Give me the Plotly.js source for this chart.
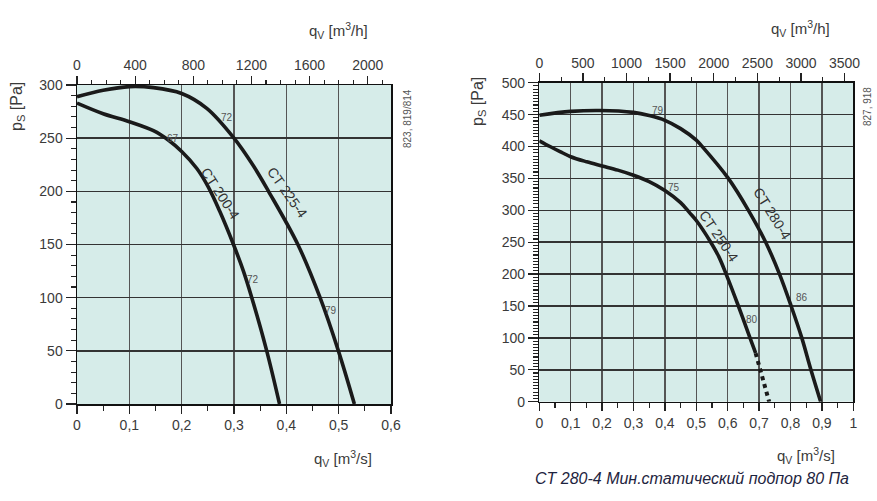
<!DOCTYPE html>
<html>
<head>
<meta charset="utf-8">
<script src="https://cdn.plot.ly/plotly-3.0.1.min.js"></script>
<style>html,body{margin:0;padding:0;background:#fff;}#chart{width:877px;height:501px;}</style>
</head>
<body>
<div id="chart"></div>
<script>
// ---- Left chart data (q in m3/s, p in Pa) ----
const ct200_q = [0, 0.05, 0.1, 0.146, 0.175, 0.2, 0.229, 0.251, 0.273, 0.299, 0.318, 0.334, 0.3625, 0.387];
const ct200_p = [283, 273, 265.5, 257, 248, 237.5, 221.5, 204, 181, 150, 125, 100, 50, 0];
const ct225_q = [0, 0.05, 0.1, 0.146, 0.2, 0.248, 0.3, 0.337, 0.366, 0.422, 0.4645, 0.4995, 0.53];
const ct225_p = [289, 295, 298.5, 297.5, 292, 278, 250, 224, 200, 150, 100, 50, 0];

// ---- Right chart data ----
const ct250_q = [0, 0.034, 0.066, 0.1, 0.151, 0.2, 0.25, 0.3, 0.35, 0.4, 0.45, 0.479, 0.5, 0.546, 0.572, 0.595, 0.634, 0.671, 0.689];
const ct250_p = [409, 400, 392, 384, 376, 369.5, 363, 355, 345, 331, 312, 296, 284, 250, 227, 200, 150, 100, 76];
const ct250dot_q = [0.689, 0.703, 0.718, 0.732];
const ct250dot_p = [76, 50, 25, 0];
const ct280_q = [0, 0.1, 0.193, 0.3, 0.35, 0.4, 0.45, 0.5, 0.517, 0.602, 0.666, 0.721, 0.765, 0.802, 0.836, 0.865, 0.896];
const ct280_p = [449, 455, 456.5, 453.5, 448.5, 441, 428, 410, 401, 350, 300, 250, 200, 150, 100, 50, 0];

// ---- Tick labels ----
const leftQsVals = [0, 0.1, 0.2, 0.3, 0.4, 0.5, 0.6];
const leftQsText = ['0', '0,1', '0,2', '0,3', '0,4', '0,5', '0,6'];
const leftQhVals = [0, 400, 800, 1200, 1600, 2000];
const rightQsVals = [0, 0.1, 0.2, 0.3, 0.4, 0.5, 0.6, 0.7, 0.8, 0.9, 1];
const rightQsText = ['0', '0,1', '0,2', '0,3', '0,4', '0,5', '0,6', '0,7', '0,8', '0,9', '1'];
const rightQhVals = [0, 500, 1000, 1500, 2000, 2500, 3000, 3500];

// ---- Point labels ----
const leftNums = [{q: 0.286, p: 269, t: '72'}, {q: 0.183, p: 250, t: '67'}, {q: 0.337, p: 117, t: '72'}, {q: 0.485, p: 88, t: '79'}];
const rightNums = [{q: 0.379, p: 457, t: '79'}, {q: 0.43, p: 335, t: '75'}, {q: 0.836, p: 164, t: '86'}, {q: 0.676, p: 129, t: '80'}];

const W = 877, H = 501;
const px = v => v / W, py = v => 1 - v / H;
const FONT = 'Liberation Sans, Arial, sans-serif';
const TXT = '#3a3a3a';
const BG = '#d6ece9';

const curve = (x, y, xa, ya) => ({
  x: x, y: y, xaxis: xa, yaxis: ya, type: 'scatter', mode: 'lines',
  line: {color: '#1a1a1a', width: 3.6, shape: 'spline', smoothing: 1},
  hoverinfo: 'skip', showlegend: false
});

const data = [
  curve(ct200_q, ct200_p, 'x', 'y'),
  curve(ct225_q, ct225_p, 'x', 'y'),
  curve(ct250_q, ct250_p, 'x2', 'y2'),
  Object.assign(curve(ct250dot_q, ct250dot_p, 'x2', 'y2'), {line: {color: '#1a1a1a', width: 4, dash: '4px,4px'}}),
  curve(ct280_q, ct280_p, 'x2', 'y2'),
  {x: [], y: [], xaxis: 'x3', yaxis: 'y', type: 'scatter', showlegend: false},
  {x: [], y: [], xaxis: 'x4', yaxis: 'y2', type: 'scatter', showlegend: false}
];

const tickfont = {family: FONT, size: 14, color: TXT};
const baseX = {
  showgrid: true, gridcolor: '#555555', gridwidth: 1.5, zeroline: false,
  showline: true, linecolor: '#111', linewidth: 1.5,
  ticks: 'outside', ticklen: 8, tickwidth: 1.3, tickcolor: '#222',
  tickfont: tickfont, fixedrange: true
};
const baseY = Object.assign({}, baseX, {mirror: true, ticklen: 10, gridcolor: '#333333'});
const baseTop = {
  side: 'top', showgrid: false, zeroline: false, showline: true, linecolor: '#111', linewidth: 1.5,
  ticks: 'outside', ticklen: 8, tickwidth: 1.3, tickcolor: '#222', tickfont: tickfont, fixedrange: true
};
const minor = (dt, len) => ({tickmode: 'linear', tick0: 0, dtick: dt, ticks: 'outside', ticklen: len, tickwidth: 1.1, tickcolor: '#222', showgrid: false});

const layout = {
  width: W, height: H,
  margin: {l: 0, r: 0, t: 0, b: 0},
  paper_bgcolor: '#ffffff',
  plot_bgcolor: BG,
  showlegend: false,
  xaxis: Object.assign({}, baseX, {
    domain: [px(77), px(391)], anchor: 'y', range: [0, 0.6],
    tickmode: 'array', tickvals: leftQsVals, ticktext: leftQsText, minor: minor(0.05, 5)
  }),
  yaxis: Object.assign({}, baseY, {
    domain: [py(404), py(85)], anchor: 'x', range: [0, 300],
    tickmode: 'linear', tick0: 0, dtick: 50, minor: minor(10, 5)
  }),
  xaxis3: Object.assign({}, baseTop, {
    overlaying: 'x', anchor: 'y', range: [0, 2160],
    tickmode: 'array', tickvals: leftQhVals, ticktext: leftQhVals.map(String), minor: minor(100, 4)
  }),
  xaxis2: Object.assign({}, baseX, {
    domain: [px(539.3), px(853.3)], anchor: 'y2', range: [0, 1],
    tickmode: 'array', tickvals: rightQsVals, ticktext: rightQsText, minor: minor(0.05, 5)
  }),
  yaxis2: Object.assign({}, baseY, {
    domain: [py(401.7), py(82.7)], anchor: 'x2', range: [0, 500],
    tickmode: 'linear', tick0: 0, dtick: 50, minor: minor(5, 5)
  }),
  xaxis4: Object.assign({}, baseTop, {
    overlaying: 'x2', anchor: 'y2', range: [0, 3600],
    tickmode: 'array', tickvals: rightQhVals, ticktext: rightQhVals.map(String), minor: minor(250, 4)
  }),
  annotations: []
};

const A = layout.annotations;
const paperText = (x, y, text, opts) => A.push(Object.assign({
  xref: 'paper', yref: 'paper', x: px(x), y: py(y), text: text, showarrow: false,
  xanchor: 'center', yanchor: 'middle', font: {family: FONT, size: 15, color: TXT}
}, opts || {}));

// Axis titles
paperText(338, 30, 'q<sub>V</sub> [m<sup>3</sup>/h]');
paperText(800, 28, 'q<sub>V</sub> [m<sup>3</sup>/h]');
paperText(343, 458, 'q<sub>V</sub> [m<sup>3</sup>/s]');
paperText(806, 455, 'q<sub>V</sub> [m<sup>3</sup>/s]');
paperText(18, 107, 'p<sub>S</sub> [Pa]', {textangle: -90, font: {family: FONT, size: 16, color: TXT}});
paperText(478, 102, 'p<sub>S</sub> [Pa]', {textangle: -90, font: {family: FONT, size: 16, color: TXT}});
// Side codes
paperText(407, 119, '823, 819/814', {textangle: -90, font: {family: FONT, size: 10, color: '#555'}});
paperText(868, 107, '827, 918', {textangle: -90, font: {family: FONT, size: 10, color: '#555'}});
// Caption
paperText(692, 478, '<i>CT 280-4 Мин.статический подпор 80 Па</i>', {font: {family: FONT, size: 16, color: '#1e2440'}});

// Curve names
const nameAnn = (xa, ya, q, p, t, ang) => A.push({
  xref: xa, yref: ya, x: q, y: p, text: t, showarrow: false, textangle: ang,
  xanchor: 'center', yanchor: 'middle', font: {family: FONT, size: 14, color: '#333'}
});
nameAnn('x', 'y', 0.273, 198, 'CT 200-4', 57);
nameAnn('x', 'y', 0.401, 199, 'CT 225-4', 55);
nameAnn('x2', 'y2', 0.740, 295, 'CT 280-4', 58);
nameAnn('x2', 'y2', 0.572, 260, 'CT 250-4', 56);

// Small numbers
const numAnn = (xa, ya, n) => A.push({
  xref: xa, yref: ya, x: n.q, y: n.p, text: n.t, showarrow: false,
  xanchor: 'center', yanchor: 'middle', font: {family: FONT, size: 10, color: '#555'}
});
leftNums.forEach(n => numAnn('x', 'y', n));
rightNums.forEach(n => numAnn('x2', 'y2', n));

Plotly.newPlot('chart', data, layout, {staticPlot: true, displayModeBar: false});
</script>
</body>
</html>
